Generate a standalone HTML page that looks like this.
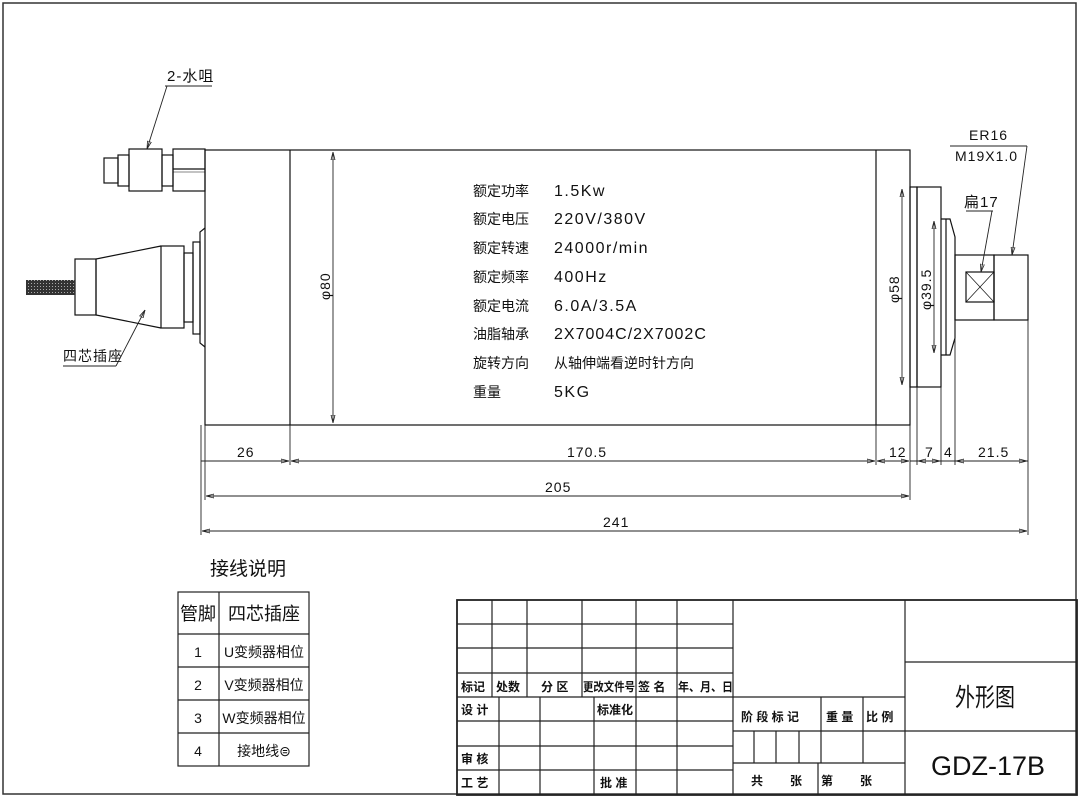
<!DOCTYPE html>
<html><head><meta charset="utf-8"><style>
html,body{margin:0;padding:0;background:#fff;}
svg{display:block;}
text{font-family:"Liberation Sans","Noto Sans CJK SC",sans-serif;fill:#111;}
</style></head><body>
<svg width="1079" height="797" viewBox="0 0 1079 797" xmlns="http://www.w3.org/2000/svg">
<defs>
<marker id="a" markerWidth="8" markerHeight="6" refX="8" refY="3" orient="auto-start-reverse" markerUnits="userSpaceOnUse"><path d="M0,1 L8,3 L0,5 Z" fill="none" stroke="#222" stroke-width="0.8"/></marker>
<pattern id="h" width="3" height="3" patternUnits="userSpaceOnUse"><rect width="3" height="3" fill="#333"/><rect x="1" y="1" width="1" height="1" fill="#aaa"/></pattern>
</defs>
<rect x="3" y="3" width="1073" height="791" fill="none" stroke="#333" stroke-width="1.5"/>
<g fill="none" stroke="#111" stroke-width="1.2">
<rect x="205" y="150" width="705" height="275"/>
<line x1="290" y1="150" x2="290" y2="425"/>
<line x1="876" y1="150" x2="876" y2="425"/>
<rect x="910" y="187" width="7" height="200"/>
<rect x="917" y="187" width="24" height="200"/>
<path d="M941,219 L950,219 L955,237 L955,338 L950,355 L941,355"/>
<line x1="946" y1="219" x2="946" y2="355"/>
<rect x="955" y="255" width="39" height="65"/>
<rect x="994" y="255" width="34" height="65"/>
<rect x="966" y="272" width="28" height="30"/>
<line x1="966" y1="272" x2="994" y2="302" stroke-width="0.7"/>
<line x1="994" y1="272" x2="966" y2="302" stroke-width="0.7"/>
<rect x="104" y="158" width="14" height="25"/>
<rect x="118" y="155" width="11" height="31"/>
<rect x="129" y="149" width="33" height="42"/>
<rect x="162" y="155" width="11" height="31"/>
<rect x="173" y="149" width="32" height="42"/>
<line x1="173" y1="169" x2="205" y2="169"/>
<line x1="173" y1="172" x2="205" y2="172" stroke-width="0.6"/>
<path d="M205,228 L200,232 L200,343 L205,347"/>
<rect x="193" y="242" width="7" height="92"/>
<rect x="184" y="253" width="9" height="69"/>
<rect x="161" y="246" width="23" height="82"/>
<path d="M161,246 L96,259 L96,315 L161,328"/>
<rect x="75" y="259" width="21" height="56"/>
</g>
<rect x="26" y="280" width="49" height="15" fill="url(#h)"/>
<g fill="none" stroke="#222" stroke-width="0.9">
<line x1="165" y1="86" x2="212" y2="86"/>
<line x1="167" y1="86" x2="147" y2="149" marker-end="url(#a)"/>
<line x1="63" y1="366" x2="116" y2="366"/>
<line x1="116" y1="366" x2="145" y2="310" marker-end="url(#a)"/>
<line x1="950" y1="146" x2="1027" y2="146"/>
<line x1="1027" y1="146" x2="1012" y2="255" marker-end="url(#a)"/>
<line x1="966" y1="211" x2="993" y2="211"/>
<line x1="992" y1="211" x2="981" y2="272" marker-end="url(#a)"/>
<line x1="333" y1="152" x2="333" y2="423" marker-start="url(#a)" marker-end="url(#a)"/>
<line x1="902" y1="189" x2="902" y2="385" marker-start="url(#a)" marker-end="url(#a)"/>
<line x1="934" y1="221" x2="934" y2="353" marker-start="url(#a)" marker-end="url(#a)"/>
<line x1="201" y1="425" x2="201" y2="535"/>
<line x1="205" y1="425" x2="205" y2="500"/>
<line x1="290" y1="425" x2="290" y2="465"/>
<line x1="876" y1="425" x2="876" y2="465"/>
<line x1="910" y1="425" x2="910" y2="500"/>
<line x1="917" y1="387" x2="917" y2="465"/>
<line x1="941" y1="387" x2="941" y2="465"/>
<line x1="955" y1="320" x2="955" y2="465"/>
<line x1="1028" y1="320" x2="1028" y2="535"/>
<line x1="201" y1="461" x2="289" y2="461" marker-end="url(#a)"/>
<line x1="291" y1="461" x2="875" y2="461" marker-start="url(#a)" marker-end="url(#a)"/>
<line x1="877" y1="461" x2="909" y2="461" marker-start="url(#a)" marker-end="url(#a)"/>
<line x1="910" y1="461" x2="1028" y2="461"/>
<line x1="918" y1="461" x2="940" y2="461" marker-start="url(#a)" marker-end="url(#a)"/>
<line x1="956" y1="461" x2="1027" y2="461" marker-start="url(#a)" marker-end="url(#a)"/>
<line x1="206" y1="496" x2="909" y2="496" marker-start="url(#a)" marker-end="url(#a)"/>
<line x1="202" y1="531" x2="1027" y2="531" marker-start="url(#a)" marker-end="url(#a)"/>
</g>
<g font-size="14" letter-spacing="1">
<text x="237" y="457">26</text>
<text x="567" y="457">170.5</text>
<text x="889" y="457">12</text>
<text x="925" y="457">7</text>
<text x="944" y="457">4</text>
<text x="978" y="457">21.5</text>
<text x="545" y="492">205</text>
<text x="603" y="527">241</text>
<text x="969" y="140">ER16</text>
<text x="955" y="161">M19X1.0</text>
<text x="964" y="207" font-size="15">扁17</text>
<text x="167" y="81" font-size="15">2-水咀</text>
<text x="63" y="361" font-size="14">四芯插座</text>
<text transform="translate(330,300) rotate(-90)">φ80</text>
<text transform="translate(899,303) rotate(-90)">φ58</text>
<text transform="translate(931,310) rotate(-90)">φ39.5</text>
</g>
<g font-size="14">
<text x="473" y="196">额定功率</text><text x="554" y="196" font-size="16" letter-spacing="1.5">1.5Kw</text>
<text x="473" y="224">额定电压</text><text x="554" y="224" font-size="16" letter-spacing="1.5">220V/380V</text>
<text x="473" y="253">额定转速</text><text x="554" y="253" font-size="16" letter-spacing="1.5">24000r/min</text>
<text x="473" y="282">额定频率</text><text x="554" y="282" font-size="16" letter-spacing="1.5">400Hz</text>
<text x="473" y="311">额定电流</text><text x="554" y="311" font-size="16" letter-spacing="1.5">6.0A/3.5A</text>
<text x="473" y="339">油脂轴承</text><text x="554" y="339" font-size="16" letter-spacing="1">2X7004C/2X7002C</text>
<text x="473" y="368">旋转方向</text><text x="554" y="368">从轴伸端看逆时针方向</text>
<text x="473" y="397">重量</text><text x="554" y="397" font-size="16" letter-spacing="1.5">5KG</text>
</g>
<text x="210" y="575" font-size="19">接线说明</text>
<g fill="none" stroke="#222" stroke-width="1.2">
<rect x="178" y="592" width="131" height="174"/>
<line x1="219" y1="592" x2="219" y2="766"/>
<line x1="178" y1="634" x2="309" y2="634"/>
<line x1="178" y1="667" x2="309" y2="667"/>
<line x1="178" y1="700" x2="309" y2="700"/>
<line x1="178" y1="733" x2="309" y2="733"/>
</g>
<g font-size="14" text-anchor="middle">
<text x="198" y="620" font-size="18">管脚</text><text x="264" y="620" font-size="18">四芯插座</text>
<text x="198" y="657">1</text><text x="264" y="657">U变频器相位</text>
<text x="198" y="690">2</text><text x="264" y="690">V变频器相位</text>
<text x="198" y="723">3</text><text x="264" y="723">W变频器相位</text>
<text x="198" y="756">4</text><text x="264" y="756">接地线⊜</text>
</g>
<g fill="none" stroke="#222" stroke-width="1.2">
<rect x="457" y="600" width="620" height="195" stroke-width="1.8"/>
<line x1="457" y1="624" x2="733" y2="624"/>
<line x1="457" y1="648" x2="733" y2="648"/>
<line x1="457" y1="673" x2="733" y2="673"/>
<line x1="457" y1="697" x2="905" y2="697"/>
<line x1="457" y1="721" x2="733" y2="721"/>
<line x1="457" y1="746" x2="733" y2="746"/>
<line x1="457" y1="770" x2="733" y2="770"/>
<line x1="492" y1="600" x2="492" y2="697"/>
<line x1="527" y1="600" x2="527" y2="697"/>
<line x1="582" y1="600" x2="582" y2="697"/>
<line x1="636" y1="600" x2="636" y2="795"/>
<line x1="677" y1="600" x2="677" y2="795"/>
<line x1="733" y1="600" x2="733" y2="795"/>
<line x1="905" y1="600" x2="905" y2="795"/>
<line x1="499" y1="697" x2="499" y2="795"/>
<line x1="540" y1="697" x2="540" y2="795"/>
<line x1="594" y1="697" x2="594" y2="795"/>
<line x1="733" y1="731" x2="1077" y2="731"/>
<line x1="733" y1="763" x2="905" y2="763"/>
<line x1="905" y1="662" x2="1077" y2="662"/>
<line x1="821" y1="697" x2="821" y2="763"/>
<line x1="863" y1="697" x2="863" y2="763"/>
<line x1="754" y1="731" x2="754" y2="763"/>
<line x1="776" y1="731" x2="776" y2="763"/>
<line x1="799" y1="731" x2="799" y2="763"/>
<line x1="818" y1="763" x2="818" y2="795"/>
</g>
<g font-size="12" font-weight="bold">
<text x="461" y="691">标记</text><text x="496" y="691">处数</text><text x="541" y="691">分 区</text>
<text x="583" y="691" textLength="52" lengthAdjust="spacingAndGlyphs">更改文件号</text><text x="638" y="691">签 名</text><text x="678" y="691" textLength="55" lengthAdjust="spacingAndGlyphs">年、月、日</text>
<text x="461" y="714">设 计</text><text x="597" y="714">标准化</text>
<text x="461" y="763">审 核</text><text x="461" y="787">工 艺</text><text x="600" y="787">批 准</text>
<text x="741" y="721">阶 段 标 记</text><text x="826" y="721">重 量</text><text x="866" y="721">比 例</text>
<text x="751" y="785">共</text><text x="790" y="785">张</text><text x="821" y="785">第</text><text x="860" y="785">张</text>
</g>
<text x="955" y="706" font-size="25" textLength="60" lengthAdjust="spacingAndGlyphs">外形图</text>
<text x="931" y="775" font-size="27" textLength="114" lengthAdjust="spacingAndGlyphs">GDZ-17B</text>
</svg>
</body></html>
